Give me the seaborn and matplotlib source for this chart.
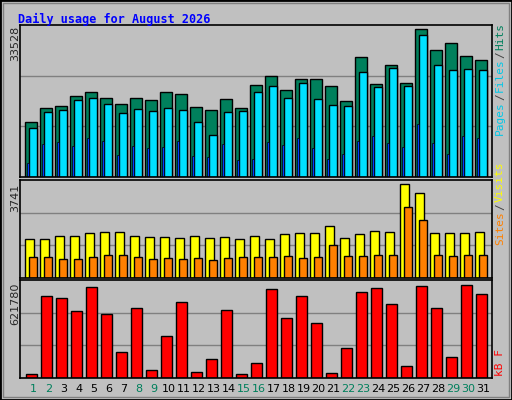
import numpy as np
import matplotlib
matplotlib.use("Agg")
import matplotlib.pyplot as plt
import seaborn as sns

days = list(range(1, 32))
weekend = [1, 2, 8, 9, 15, 16, 22, 23, 29, 30]
hits = [12365, 15551, 16006, 18282, 19192, 17827, 16461, 17827, 17372, 19192, 18737, 15779, 15096, 17599, 15551, 20785,
        22834, 19647, 22151, 22151, 20557, 17144, 27157, 21013, 25337, 21240, 33528, 28750, 30343, 27385, 26474]
files = [11000, 14641, 15096, 17372, 17827, 16461, 14413, 15323, 14868, 15551, 15096, 12365, 9406, 14641, 14868, 19192,
         20557, 17827, 21240, 17599, 16233, 16006, 23743, 20330, 24654, 20557, 32163, 25337, 24199, 24426, 24199]
pages = [3262, 7586, 8041, 7131, 8724, 8268, 5083, 7131, 6676, 6903, 8268, 4855, 4627, 7586, 3945, 4172,
         8041, 7358, 8724, 6676, 4172, 5310, 8268, 9179, 7813, 6903, 11910, 7813, 5310, 9179, 8724]
visits = [1553, 1553, 1675, 1675, 1796, 1837, 1837, 1675, 1634, 1634, 1594, 1675, 1594, 1634, 1553, 1675,
          1553, 1756, 1796, 1796, 2080, 1594, 1756, 1877, 1837, 3741, 3376, 1796, 1796, 1796, 1837]
sites = [824, 824, 743, 743, 824, 905, 905, 824, 743, 783, 743, 783, 702, 783, 824, 824,
         824, 864, 783, 824, 1310, 864, 864, 905, 905, 2809, 2323, 905, 864, 905, 905]
kbytes = [29500, 546900, 533300, 444800, 608200, 431200, 172500, 465200, 56700, 281400, 506100, 43100, 124800,
          451600, 29500, 97600, 594600, 403900, 546900, 369900, 36300, 199700, 574100, 601400, 492400, 77200,
          615000, 465200, 138400, 621780, 560500]

sns.set_style("white")
plt.rcParams["font.family"] = ["DejaVu Sans Mono"]
BG = "#C0C0C0"
W, H = 512, 400
fig = plt.figure(figsize=(5.12, 4.0), dpi=100, facecolor=BG)
fig.patches.append(plt.Rectangle((0, 0), 1, 1, transform=fig.transFigure, fill=False, ec="black", lw=2))
fig.patches.append(plt.Rectangle((3 / W, 3 / H), 1 - 6 / W, 1 - 6 / H, transform=fig.transFigure,
                                 fill=False, ec="#808080", lw=1))

def panel(top, bottom):
    ax = fig.add_axes([20 / W, 1 - bottom / H, 472 / W, (bottom - top) / H])
    ax.set_facecolor(BG)
    ax.set_xlim(0, 472 / 15)
    ax.set_xticks([])
    ax.set_yticks([])
    for s in ax.spines.values():
        s.set_color("black")
        s.set_linewidth(1.2)
    return ax

x0 = np.array(days) - 1
bar_kw = dict(align="edge", edgecolor="black", linewidth=1)

# top panel
ax1 = panel(25, 177)
ymax = 33528 * 152 / 148
ax1.set_ylim(0, ymax)
for g in (1 / 3, 2 / 3):
    ax1.axhline(ymax * g, color="#808080", lw=1, zorder=0)
ax1.bar(x0 + 0.35, hits, 0.75, color="#00805C", **bar_kw)
ax1.bar(x0 + 0.62, files, 0.49, color="#00E0FF", **bar_kw)
ax1.bar(x0 + 0.47, pages, 0.15, color="#0040FF", align="edge", edgecolor="black", linewidth=0.5)

# middle panel
ax2 = panel(180, 278)
ymax2 = 3741 * 98 / 94
ax2.set_ylim(0, ymax2)
for g in (1 / 3, 2 / 3):
    ax2.axhline(ymax2 * g, color="#808080", lw=1, zorder=0)
ax2.bar(x0 + 0.35, visits, 0.56, color="#FFFF00", **bar_kw)
ax2.bar(x0 + 0.62, sites, 0.49, color="#FF8000", **bar_kw)

# bottom panel
ax3 = panel(280, 378)
ymax3 = 621780 * 98 / 93
ax3.set_ylim(0, ymax3)
for g in (1 / 3, 2 / 3):
    ax3.axhline(ymax3 * g, color="#808080", lw=1, zorder=0)
ax3.bar(x0 + 0.42, kbytes, 0.69, color="#FF0000", **bar_kw)

for d in days:
    fig.text((20 + (d - 1) * 15 + 13.5) / W, 1 - 389 / H, str(d), ha="center", va="center", fontsize=8,
             color="#00805C" if d in weekend else "black", family="DejaVu Sans")

fig.text(18 / W, 1 - 19 / H, "Daily usage for August 2026", color="#0000FF", fontsize=8.5,
         fontweight="bold", va="center")
fig.text(15 / W, 1 - 26 / H, "33528", rotation=90, fontsize=8, ha="center", va="top", family="DejaVu Sans")
fig.text(15 / W, 1 - 184 / H, "3741", rotation=90, fontsize=8, ha="center", va="top", family="DejaVu Sans")
fig.text(15 / W, 1 - 283 / H, "621780", rotation=90, fontsize=8, ha="center", va="top", family="DejaVu Sans")

renderer = fig.canvas.get_renderer()

def side(parts, y_bottom):
    y = y_bottom
    for txt, col in parts:
        t = fig.text(500 / W, 1 - y / H, txt, rotation=90, fontsize=8, color=col, ha="center", va="bottom")
        y -= t.get_window_extent(renderer).height + 1

side([("Pages", "#00C8E8"), ("/", "#404040"), ("Files", "#00C8E8"), ("/", "#404040"), ("Hits", "#00805C")], 135)
side([("Sites", "#FF8000"), ("/", "#404040"), ("Visits", "#FFFF00")], 245)
side([("kB F", "#FF0000")], 376)

fig.savefig("out.png", dpi=100, facecolor=BG)
